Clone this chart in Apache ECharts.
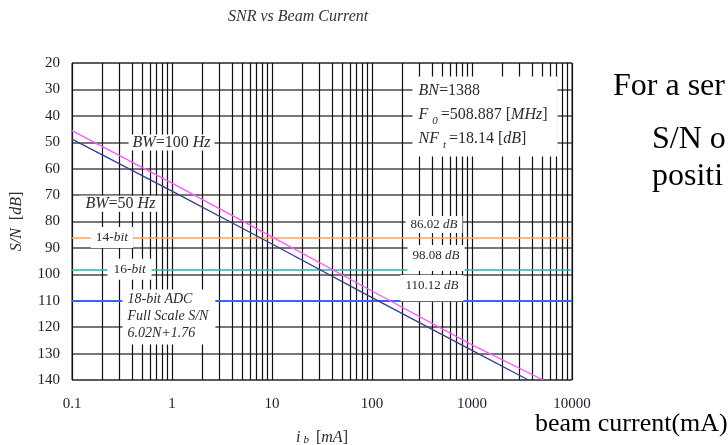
<!DOCTYPE html>
<html><head><meta charset="utf-8">
<script src="https://cdn.jsdelivr.net/npm/echarts@6/dist/echarts.min.js"></script>
<style>html,body{margin:0;padding:0;background:#fff}#c{width:728px;height:445px}</style>
</head><body><div id="c"></div>
<script>
// ---- data ----
const xTickValues = [0.1, 1, 10, 100, 1000, 10000];
const yTickValues = [20, 30, 40, 50, 60, 70, 80, 90, 100, 110, 120, 130, 140];
const xGridValues = [0.1, 0.2, 0.3, 0.4, 0.5, 0.6, 0.7, 0.8, 0.9,
  1, 2, 3, 4, 5, 6, 7, 8, 9,
  10, 20, 30, 40, 50, 60, 70, 80, 90,
  100, 200, 300, 400, 500, 600, 700, 800, 900,
  1000, 2000, 3000, 4000, 5000, 6000, 7000, 8000, 9000, 10000];
const bw100Current = [0.1, 1, 10, 100, 1000, 5160];
const bw100SNR = [45.6, 65.5, 85.8, 106.3, 126.7, 140];
const bw50Current = [0.1, 1, 10, 100, 1000, 3660];
const bw50SNR = [48.8, 68.5, 88.5, 108.8, 128.8, 140];
const adcNames = ['14-bit', '16-bit', '18-bit'];
const adcSNR = [86.02, 98.08, 110.12];

const SERIF = '"Liberation Serif", "DejaVu Serif", serif';
const TXT = '#2a2a2a';
const adcColors = ['#F5A55A', '#2BB3AA', '#3366FF'];
const adcWidths = [1.5, 1.5, 2];

const chart = echarts.init(document.getElementById('c'), null, {renderer: 'canvas'});

function rich(size, lh) {
  return {
    i: {fontStyle: 'italic', fontFamily: SERIF, fontSize: size, color: TXT, lineHeight: lh},
    sub: {fontStyle: 'italic', fontFamily: SERIF, fontSize: Math.round(size * 0.68), color: TXT,
      verticalAlign: 'bottom', lineHeight: lh, padding: [0, 3, 0, 4]}
  };
}
function box(coord, text, size, lh, padding, extra) {
  return {
    coord: coord,
    symbol: 'rect', symbolSize: 1,
    itemStyle: {color: 'rgba(0,0,0,0)'},
    label: Object.assign({
      show: true, formatter: text, position: 'inside',
      fontFamily: SERIF, fontSize: size, color: TXT, lineHeight: lh,
      backgroundColor: '#fff', padding: padding,
      rich: rich(size, lh)
    }, extra || {})
  };
}
const topLeft = {position: [0, 0], align: 'left', verticalAlign: 'top'};

const option = {
  animation: false,
  backgroundColor: '#fff',
  title: {
    text: 'SNR vs Beam Current', left: 223, top: 4,
    textStyle: {fontFamily: SERIF, fontStyle: 'italic', fontWeight: 'normal', fontSize: 16, color: '#333'}
  },
  grid: {left: 72, right: 156, top: 63, bottom: 65, outerBoundsMode: 'none', containLabel: false,
    show: true, borderColor: '#222', borderWidth: 1, backgroundColor: '#fff'},
  xAxis: {
    type: 'log', logBase: 10, min: xTickValues[0], max: xTickValues[xTickValues.length - 1],
    splitNumber: 5,
    axisLine: {show: false}, axisTick: {show: false}, splitLine: {show: false},
    axisLabel: {
      margin: 17, fontFamily: SERIF, fontSize: 15, color: '#1c1c2c',
      formatter: v => String(parseFloat(Number(v).toPrecision(6)))
    },
    name: '{i|i}{sub|b} [{i|mA}]', nameLocation: 'middle', nameGap: 50,
    nameTextStyle: {
      fontFamily: SERIF, fontSize: 16, color: TXT,
      rich: {
        i: {fontStyle: 'italic', fontFamily: SERIF, fontSize: 16, color: TXT},
        sub: {fontStyle: 'italic', fontFamily: SERIF, fontSize: 11, color: TXT, verticalAlign: 'bottom', padding: [0, 3, 0, 3]}
      }
    }
  },
  yAxis: {
    type: 'value', inverse: true, min: yTickValues[0], max: yTickValues[yTickValues.length - 1], interval: 10,
    axisLine: {show: false}, axisTick: {show: false},
    splitLine: {show: true, lineStyle: {color: '#4a4a4a', width: 1.6}},
    axisLabel: {margin: 12, fontFamily: SERIF, fontSize: 15, color: '#1c1c2c'},
    name: '{i|S/N}  [{i|dB}]', nameLocation: 'middle', nameGap: 47, nameRotate: 90,
    nameTextStyle: {
      fontFamily: SERIF, fontSize: 16, color: TXT,
      rich: {i: {fontStyle: 'italic', fontFamily: SERIF, fontSize: 16, color: TXT}}
    }
  },
  series: [
    {
      type: 'line', data: [], silent: true,
      markLine: {
        silent: true, symbol: 'none', z: 1, animation: false,
        label: {show: false},
        lineStyle: {color: '#111', width: 1.2, type: 'solid'},
        data: xGridValues.map(v => ({xAxis: v}))
      }
    },
    {
      type: 'line', data: [], silent: true,
      markLine: {
        silent: true, symbol: 'none', z: 2, animation: false,
        label: {show: false},
        data: adcSNR.map((v, i) => ({yAxis: v, lineStyle: {color: adcColors[i], width: adcWidths[i], type: 'solid'}}))
      }
    },
    {
      name: 'BW=100 Hz', type: 'line', z: 4, showSymbol: false,
      lineStyle: {color: '#FF55FF', width: 1.3},
      data: bw100Current.map((x, i) => [x, bw100SNR[i]])
    },
    {
      name: 'BW=50 Hz', type: 'line', z: 4, showSymbol: false,
      lineStyle: {color: '#3C3C8C', width: 1.3},
      data: bw50Current.map((x, i) => [x, bw50SNR[i]])
    },
    {
      type: 'line', data: [], silent: true,
      markPoint: {
        silent: true, z: 10, animation: false,
        data: [
          box([0.989, 50.1], '{i|BW}=100 {i|Hz}', 16, 16, [0, 4, 0, 4]),
          box([0.305, 73.3], '{i|BW}=50 {i|Hz}', 16, 16, [0, 6, 0, 6]),
          box([0.251, adcSNR[0]], '14-{i|bit}', 13.5, 15, [3, 5, 3, 5]),
          box([0.376, adcSNR[1]], '16-{i|bit}', 13.5, 15, [3, 6, 3, 6]),
          box([0.3236, 105.9], '{i|18-bit ADC}\n{i|Full Scale S/N}\n{i|6.02N+1.76}', 14, 17, [1.5, 7, 2.5, 5], topLeft),
          box([257, 25.3], '{i|BN}=1388\n{i|F}{sub|0}=508.887 [{i|MHz}]\n{i|NF}{sub|t}=18.14 [{i|dB}]', 16, 24, [2, 10, 6, 6], topLeft),
          box([417, 81.1], adcSNR[0].toFixed(2) + ' {i|dB}', 13, 15, [1, 5, 1, 5]),
          box([437, 93.8], adcSNR[1].toFixed(2) + ' {i|dB}', 13, 15, [3, 5, 8, 5]),
          box([398, 105.2], adcSNR[2].toFixed(2) + ' {i|dB}', 13, 15, [3, 5, 8, 5])
        ]
      }
    }
  ],
  graphic: [
    {type: 'text', left: 613, top: 71, style: {text: 'For a ser', font: '32px "Liberation Serif"', fill: '#000'}},
    {type: 'text', left: 652, top: 124, style: {text: 'S/N o', font: '32px "Liberation Serif"', fill: '#000'}},
    {type: 'text', left: 652, top: 161, style: {text: 'positi', font: '32px "Liberation Serif"', fill: '#000'}},
    {type: 'text', left: 535, top: 411, style: {text: 'beam current(mA)', font: '26px "Liberation Serif"', fill: '#000'}}
  ]
};
chart.setOption(option);
</script>
</body></html>
